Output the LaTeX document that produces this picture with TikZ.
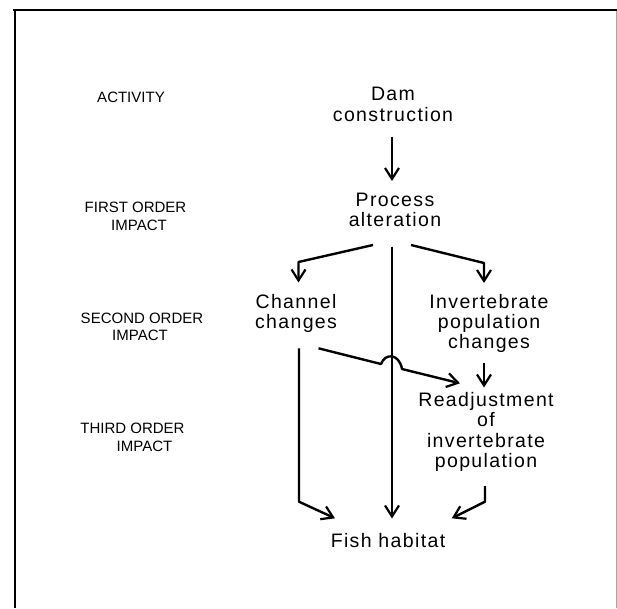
\documentclass[tikz,border=0pt]{standalone}
\usepackage{fontspec}
\setmainfont{Liberation Sans}
\newfontfamily\mainfam[LetterSpace=7]{Liberation Sans}
\usetikzlibrary{arrows.meta,calc}
\begin{document}
\begin{tikzpicture}[x=1pt,y=-1pt,
  main/.style={font=\mainfam\fontsize{19.5}{20.3}\selectfont, align=center, inner sep=0pt},
  lab/.style={font=\fontsize{15}{17}\selectfont, inner sep=0pt},
  arr/.style={line width=2.4pt, line join=round, -{Straight Barb[length=11pt,width=14pt,line width=2.2pt]}},
  frame/.style={line width=2.2pt}]
\useasboundingbox (0,0) rectangle (617,608);
% frame
\draw[frame] (13,10.3) -- (617,10.3);
\draw[frame] (15,9.2) -- (15,608);
\draw[line width=0.7pt, black!35] (616,11) -- (616,608);
% left labels
\node[lab] (act) at (131,97.2) {ACTIVITY};
\node[lab] (first) at (135.5,207.7) {FIRST ORDER};
\node[lab] (firstb) at (139,225.2) {IMPACT};
\node[lab] (second) at (142,318) {SECOND ORDER};
\node[lab] (secondb) at (140,335.3) {IMPACT};
\node[lab] (third) at (132.5,428.2) {THIRD ORDER};
\node[lab] (thirdb) at (144.5,446) {IMPACT};
% main nodes
\node[main] (dam) at (393,104.5) {Dam\\construction};
\node[main] (proc) at (395,210) {Process\\alteration};
\node[main] (chan) at (296,313.5) {Channel\\changes};
\node[main] (inv) at (489,323.5) {Invertebrate\\population\\changes};
\node[main] (read) at (486,432) {Readjustment\\of\\invertebrate\\population};
\node[main] (fish) at (388,541) {Fish habitat};
% connectors
\draw[arr] ($(dam.center)+(-1,32)$) -- ($(proc.center)+(-3,-29)$);
\draw[arr] ($(proc.center)+(-22,35)$) -- (298.5,262) -- ($(chan.center)+(2.5,-31)$);
\draw[arr] ($(proc.center)+(16,35)$) -- (484,263) -- ($(inv.center)+(-5,-40.5)$);
\draw[arr] ($(proc.center)+(-3,36.5)$) -- ($(fish.center)+(4,-22.5)$);
% channel to readjustment, jumping over the middle line
\coordinate (j1) at (381,364);
\coordinate (j2) at (402,369);
\draw[arr] ($(chan.center)+(22.5,34.8)$) -- (j1)
   .. controls (385,353) and (399,353) .. (j2) -- ($(read.center)+(-26,-48.7)$);
\draw[arr] ($(inv.center)+(-5,39.8)$) -- ($(read.center)+(-2,-44.5)$);
\coordinate (cb) at (299,501.7);
\draw[arr] ($(chan.center)+(3,34.8)$) -- (cb) -- ($(fish.center)+(-53,-22.7)$);
\coordinate (rb) at (485,501.7);
\draw[arr] ($(read.center)+(-1,54)$) -- (rb) -- ($(fish.center)+(63.7,-22.7)$);
\end{tikzpicture}
\end{document}
